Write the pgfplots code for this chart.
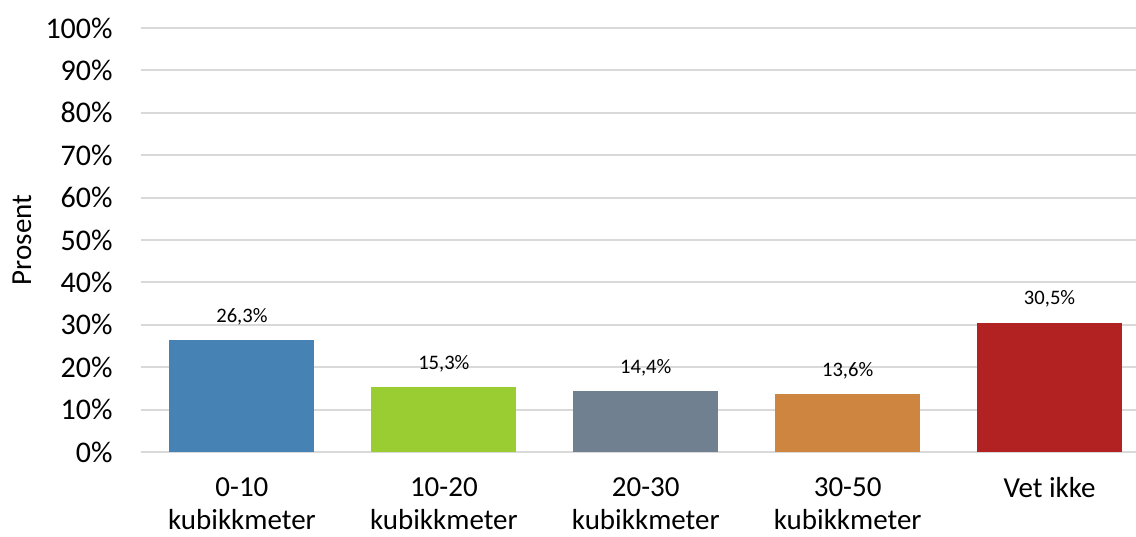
\documentclass[border=0pt]{standalone}
\usepackage{fontspec}
\setmainfont{Carlito}
\usepackage{pgfplots}
\pgfplotsset{compat=1.18}

\definecolor{cA}{HTML}{4682B4}
\definecolor{cB}{HTML}{9ACD32}
\definecolor{cC}{HTML}{708090}
\definecolor{cD}{HTML}{CD853F}
\definecolor{cE}{HTML}{B22222}
\definecolor{gridgray}{HTML}{D9D9D9}

\begin{document}
\begin{tikzpicture}
\begin{axis}[
  at={(0,0)}, anchor=south west,
  scale only axis,
  width=497.5pt, height=212pt,
  ybar, bar width=72.5pt, bar shift=0pt,
  xmin=-0.5, xmax=4.428,
  ymin=0, ymax=100,
  ytick={0,10,...,100},
  xtick={0,1,2,3,4},
  xticklabels={{0-10\\kubikkmeter},{10-20\\kubikkmeter},{20-30\\kubikkmeter},{30-50\\kubikkmeter},{Vet ikke}},
  major tick length=0pt,
  axis line style={draw=none},
  ymajorgrids, grid style={color=gridgray, line width=1pt},
  /pgf/number format/assume math mode=true,
  yticklabel={\pgfmathprintnumber{\tick}\%},
  yticklabel style={font=\fontsize{15}{18}\selectfont, inner sep=0pt, xshift=-14pt},
  xticklabel style={font=\fontsize{14.5}{16.5}\selectfont, align=center, anchor=north, inner sep=0pt, yshift=-12.5pt},
  ylabel={Prosent},
  ylabel style={font=\fontsize{14.5}{17}\selectfont, at={([xshift=-59.5pt]axis description cs:0,0.5)}, anchor=center},
  nodes near coords={\pgfmathprintnumber[use comma,fixed,fixed zerofill,precision=1]{\pgfplotspointmeta}\%},
  every node near coord/.append style={font=\fontsize{10.3}{12}\selectfont, color=black, anchor=south, yshift=4pt},
  clip=false,
]
\addplot[fill=cA, draw=none] coordinates {(0,26.3)};
\addplot[fill=cB, draw=none] coordinates {(1,15.3)};
\addplot[fill=cC, draw=none] coordinates {(2,14.4)};
\addplot[fill=cD, draw=none] coordinates {(3,13.6)};
\addplot[fill=cE, draw=none] coordinates {(4,30.5)};
\end{axis}
\pgfresetboundingbox
\useasboundingbox (-70.5pt,-42pt) rectangle (497.5pt,226pt);
\end{tikzpicture}
\end{document}
